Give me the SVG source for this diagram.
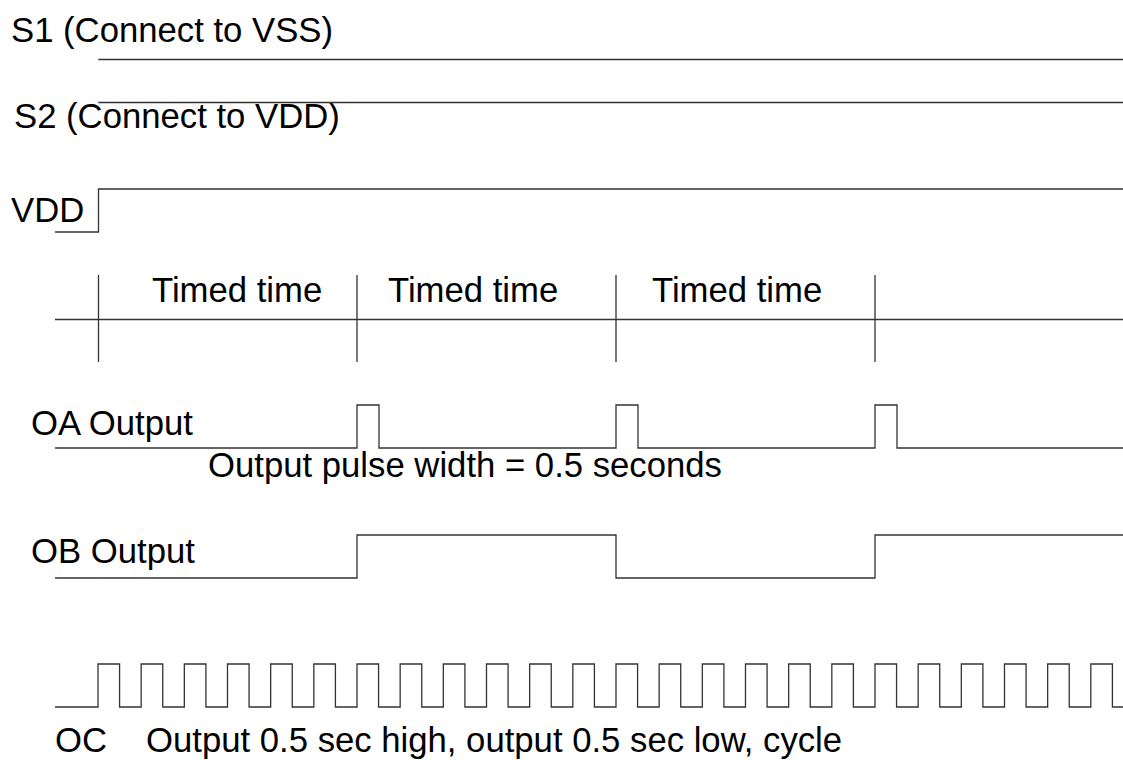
<svg xmlns="http://www.w3.org/2000/svg" width="1123" height="760" viewBox="0 0 1123 760">
<style>
  text { font-family: "Liberation Sans", Arial, sans-serif; font-size: 34.7px; fill: #000; }
  .w { fill: none; stroke: #333; stroke-width: 1.3; }
</style>
<rect width="1123" height="760" fill="#fff"/>
<g id="s1">
  <text x="11" y="42">S1 (Connect to VSS)</text>
  <path class="w" d="M98.3,59.5 H1123"/>
</g>
<g id="s2">
  <text x="14" y="128">S2 (Connect to VDD)</text>
  <path class="w" d="M98.3,102.5 H1123"/>
</g>
<g id="vdd">
  <text x="11" y="222">VDD</text>
  <path class="w" d="M55,232 H98.5 V189 H1123"/>
</g>
<g id="timeline">
  <path class="w" d="M55,319.5 H1123 M98.5,275 V362 M357,275 V362 M616,275 V362 M875,275 V362"/>
  <text x="152" y="302">Timed time</text>
  <text x="388" y="302">Timed time</text>
  <text x="652" y="302">Timed time</text>
</g>
<g id="oa">
  <text x="31" y="435">OA Output</text>
  <path class="w" d="M55,448 H357 V405 H379 V448 H616 V405 H638 V448 H875 V405 H897 V448 H1123"/>
  <text x="208" y="477">Output pulse width = 0.5 seconds</text>
</g>
<g id="ob">
  <text x="31" y="563">OB Output</text>
  <path class="w" d="M55,578 H357 V535 H616 V578 H875 V535 H1123"/>
</g>
<g id="oc">
  <path class="w" d="M55,707 H98
  v-43 h21.583 v43 h21.583 v-43 h21.583 v43 h21.583 v-43 h21.583 v43 h21.583 v-43 h21.583 v43 h21.583
  v-43 h21.583 v43 h21.583 v-43 h21.583 v43 h21.583 v-43 h21.583 v43 h21.583 v-43 h21.583 v43 h21.583
  v-43 h21.583 v43 h21.583 v-43 h21.583 v43 h21.583 v-43 h21.583 v43 h21.583 v-43 h21.583 v43 h21.583
  v-43 h21.583 v43 h21.583 v-43 h21.583 v43 h21.583 v-43 h21.583 v43 h21.583 v-43 h21.583 v43 h21.583
  v-43 h21.583 v43 h21.583 v-43 h21.583 v43 h21.583 v-43 h21.583 v43 h21.583 v-43 h21.583 v43 h21.583
  v-43 h21.583 v43 h21.583 v-43 h21.583 v43 h21.583 v-43 h21.583 v43 h21.583 v-43 h21.583 v43 H1123"/>
  <text x="55" y="752">OC</text>
  <text x="146" y="752">Output 0.5 sec high, output 0.5 sec low, cycle</text>
</g>
<g id="connectors"></g>
</svg>
